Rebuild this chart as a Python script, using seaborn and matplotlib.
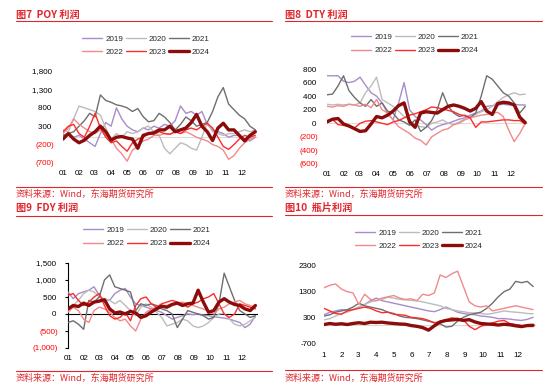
import numpy as np
import pandas as pd
import matplotlib
matplotlib.use("Agg")
import matplotlib.pyplot as plt
import seaborn as sns
from matplotlib.lines import Line2D

sns.set_theme(style="white")
plt.rcParams["font.family"] = ["Liberation Sans", "Noto Sans CJK SC", "DejaVu Sans"]

# ---------------- data ----------------
days = list(range(0, 361, 10))
years = ["2019", "2020", "2021", "2022", "2023", "2024"]
month_starts = [0, 31, 59, 90, 120, 151, 181, 212, 243, 273, 304, 334]
month_labels_a = ["01", "02", "03", "04", "05", "06", "07", "08", "09", "10", "11", "12"]
month_labels_b = ["1", "2", "3", "4", "5", "6", "7", "8", "9", "10", "11", "12"]

poy_2019 = [50, 100, 0, 50, -50, -150, -250, 100, 400, 300, 800, 500, 300, 200, 150, 250, 200, 300, 250, 350, 300, 450, 850, 650, 700, 600, 700, 350, 200, 150, 100, 0, 50, 50, -50, -100, 0]
poy_2020 = [200, 150, 500, 850, 800, 750, 700, 600, 250, -50, 100, 0, 150, 100, 150, 250, 300, 150, 50, -300, -450, -300, -150, -200, -300, -350, 0, 400, 150, 100, 50, 100, 100, 150, 200, 150, 200]
poy_2021 = [50, 100, 150, 300, 450, 650, 550, 1150, 1000, 950, 880, 850, 800, 700, 780, 560, 420, 450, 650, 550, 400, 200, 350, 550, 450, 300, 350, 400, 700, 1100, 1350, 900, 750, 600, 500, 300, 200]
poy_2022 = [100, 250, 500, 350, 250, 150, 100, 200, 50, -50, -300, -450, -650, -350, -250, -100, -50, 50, 50, 100, 80, 150, 100, 150, 80, 0, -50, -100, -200, -250, -350, -600, -500, -300, -150, -50, 0]
poy_2023 = [150, 300, 350, 100, 0, 300, 650, 250, 0, -150, -100, -250, -380, -150, -50, 0, 100, 80, 150, 100, 80, 150, 100, 200, 250, 200, 300, 380, 250, 0, -250, -330, -200, -50, 50, 0, 50]
poy_2024 = [-50, 100, -50, -150, -80, 50, 150, 300, 150, -80, 0, 20, -20, -50, -300, 50, 100, 120, 200, 200, 300, 150, 200, 250, 400, 620, 300, 150, -90, 250, 380, 200, 200, 50, -100, 50, 150]

dty_2019 = [700, 700, 700, 620, 600, 620, 680, 560, 450, 400, 300, 150, 50, 300, 600, 200, 100, 50, -20, -100, -50, -20, 0, 30, 60, 80, 120, 150, 180, 250, 260, 270, 280, 270, 280, 270, 270]
dty_2020 = [280, 270, 280, 270, 280, 270, 300, 450, 550, 680, 350, 300, 250, 180, 100, 50, -20, -50, -60, 0, 20, 50, 0, -20, 20, 60, 100, 130, 170, 200, 250, 320, 380, 420, 450, 420, 430]
dty_2021 = [420, 430, 550, 700, 480, 380, 300, 250, 350, 250, 300, 180, 150, 50, 20, -30, 50, -120, -60, 40, 200, 450, 250, 150, 100, 120, 80, 150, 400, 700, 650, 550, 450, 400, 300, 150, 250]
dty_2022 = [250, 240, 260, 250, 280, 270, 250, 280, 230, 350, 200, 150, 50, -50, -100, -150, -220, -250, -320, -200, -150, -100, -80, -20, 0, 50, 80, 100, 120, 130, 150, 160, 100, -100, -270, -150, 0]
dty_2023 = [40, 60, -20, -30, -50, -70, 0, 30, 40, 20, 0, -20, 20, 40, 80, 120, 140, 170, 200, 240, 230, 210, 190, 170, 130, 110, 80, -60, 20, 20, 30, 40, 50, 50, 40, 40, -10]
dty_2024 = [20, 60, 70, -10, -40, -80, -120, -110, -10, 100, 80, 120, 180, 260, 300, 20, -60, 150, 170, 160, 150, 200, 250, 270, 250, 220, 180, 220, 320, 180, 130, 290, 310, 300, 270, 90, 10]

fdy_2019 = [650, 450, 600, 650, 700, 800, 550, 400, 400, 600, 700, 750, 500, 300, 250, 200, 150, 100, 50, -50, -150, -100, -50, 0, -20, 0, -30, -50, -80, -100, -120, -150, -200, -250, -400, -300, -50]
fdy_2020 = [100, 250, 400, 600, 700, 650, 500, 450, 400, 300, 400, 250, 100, -50, 200, 300, 200, 50, -100, -350, -300, -250, -150, -200, -350, -400, -350, -250, -100, 0, 20, -150, -300, -350, -300, -200, -100]
fdy_2021 = [-250, -200, -300, -450, 400, 350, 500, 1000, 1150, 800, 750, 700, 650, 100, 300, 250, 300, 250, 150, 100, 0, -400, -150, 100, 50, 0, -50, -150, -100, 300, 1200, 800, 400, 100, 0, -100, -50]
fdy_2022 = [50, 200, 100, -150, -250, 100, 200, 150, 50, -100, -200, -150, -350, -500, -150, 50, 150, 200, 250, 250, 300, 320, 350, 300, 250, 200, 150, 80, 0, 150, 200, 300, 350, 400, 300, 250, 200]
fdy_2023 = [550, 600, 400, 250, 350, 500, 600, 250, -50, -150, -100, 50, -200, 250, 450, 500, 300, 200, 300, 350, 400, 350, 300, 200, 300, 350, 450, 500, 600, 300, 0, -100, 0, 300, 250, 200, 150]
fdy_2024 = [150, 250, 220, 320, 250, 350, 380, 420, 150, 30, 60, 0, 80, 30, -100, -50, 60, 150, 230, 200, 280, 320, 250, 300, 320, 700, 350, 50, 100, 350, 450, 350, 280, 250, 150, 100, 250]

bottle_2019 = [400, 500, 550, 600, 580, 600, 700, 800, 950, 1050, 950, 900, 850, 800, 750, 700, 650, 600, 550, 520, 600, 700, 600, 500, 450, 420, 400, 350, 330, 300, 250, 250, 230, 200, 180, 220, 300]
bottle_2020 = [200, 250, 350, 450, 500, 600, 700, 800, 900, 950, 1000, 1080, 1050, 1000, 980, 960, 940, 900, 850, 800, 750, 650, 600, 550, 520, 480, 470, 450, 420, 450, 500, 550, 520, 500, 480, 450, 440]
bottle_2021 = [350, 400, 500, 550, 600, 700, 850, 750, 700, 650, 600, 500, 450, 350, 300, 280, 250, 200, 150, 100, 50, -80, -50, 150, 300, 400, 450, 500, 650, 850, 1100, 1300, 1400, 1700, 1650, 1700, 1500]
bottle_2022 = [1450, 1550, 1600, 1400, 1300, 1250, 800, 1200, 1000, 950, 1050, 1100, 1150, 1050, 1000, 1020, 950, 1200, 1150, 1250, 1950, 1850, 2000, 2100, 1500, 900, 750, 700, 750, 550, 600, 650, 700, 750, 700, 650, 600]
bottle_2023 = [650, 550, 450, 420, 550, 600, 650, 700, 650, 550, 480, 500, 420, 400, 380, 300, 280, 250, 180, 80, 150, 200, 280, 250, 200, -50, -180, -50, 20, 80, 150, 180, 60, 20, -20, -50, -60]
bottle_2024 = [20, 60, 30, 50, 20, 60, 90, 60, 110, 100, 110, 80, 60, 40, 30, -20, -50, -100, -200, -30, 120, 180, 200, 220, 180, 210, 120, 60, 40, 30, 0, 30, 10, -30, -60, -20, -10]

panels = {
    "poy": [poy_2019, poy_2020, poy_2021, poy_2022, poy_2023, poy_2024],
    "dty": [dty_2019, dty_2020, dty_2021, dty_2022, dty_2023, dty_2024],
    "fdy": [fdy_2019, fdy_2020, fdy_2021, fdy_2022, fdy_2023, fdy_2024],
    "bottle": [bottle_2019, bottle_2020, bottle_2021, bottle_2022, bottle_2023, bottle_2024],
}

titles = {"poy": "图7  POY 利润", "dty": "图8  DTY 利润", "fdy": "图9  FDY 利润", "bottle": "图10  瓶片利润"}
source = "资料来源：Wind，东海期货研究所"

# ---------------- style ----------------
colors = ["#a98cc9", "#bcbcbc", "#6f6f6f", "#f2898b", "#ff2b2b", "#8c0c0c"]
widths = [1.0, 1.0, 1.0, 1.0, 1.0, 2.4]
RED = "#e0262c"
NEG = "#ff0000"

W, H = 550, 387
fig = plt.figure(figsize=(W / 100, H / 100), dpi=100)
fig.patch.set_facecolor("white")


def add_ax(l, t, r, b):
    return fig.add_axes([l / W, 1 - b / H, (r - l) / W, (b - t) / H])


def fx(x):
    return x / W


def fy(y):
    return 1 - y / H


def fmt(v, paren=True):
    if not paren:
        return f"{v}"
    if v < 0:
        return f"({abs(v):,})"
    return f"{v:,} "


cfg = {
    "poy": dict(box=(63, 71, 258, 163), ylim=(-700, 1800), yticks=[1800, 1300, 800, 300, -200, -700],
                xl=month_labels_a, xpad=4.7, ypad=6.5, paren=True, zero="#dddddd",
                title=(16, 15), top=(16, 272, 20.5), bot=(16, 272, 186.7), src=(16, 194), leg=(146, 45.5)),
    "dty": dict(box=(327, 69, 528, 164), ylim=(-600, 800), yticks=[800, 600, 400, 200, 0, -200, -400, -600],
                xl=month_labels_a, xpad=4.7, ypad=6.2, paren=True, zero="#dddddd",
                title=(285, 15), top=(285, 542, 21.3), bot=(285, 542, 186.7), src=(285, 194), leg=(415, 44)),
    "fdy": dict(box=(68, 263, 258, 348), ylim=(-1000, 1500), yticks=[1500, 1000, 500, 0, -500, -1000],
                xl=month_labels_a, xpad=5.4, ypad=4.5, paren=True, zero="#000000",
                title=(16, 208.3), top=(16, 272, 215.7), bot=(16, 272, 370.5), src=(16, 378.3), leg=(147, 237)),
    "bottle": dict(box=(324, 266, 536, 343), ylim=(-700, 2300), yticks=[2300, 1300, 300, -700],
                   xl=month_labels_b, xpad=6.8, ypad=5.8, paren=False, zero="#d9d9d9",
                   title=(285, 208.3), top=(285, 542, 215), bot=(285, 542, 370), src=(285, 378.3), leg=(419, 239.5)),
}

# legend is filled column by column, so reorder to get rows 2019-2021 / 2022-2024
leg_order = [0, 3, 1, 4, 2, 5]

for key, c in cfg.items():
    ax = add_ax(*c["box"])
    ax.set_facecolor("none")
    ax.axhline(0, color=c["zero"], lw=0.8, zorder=1)
    for yr, vals, col, lw in zip(years, panels[key], colors, widths):
        sns.lineplot(x=days, y=vals, ax=ax, color=col, linewidth=lw, legend=False, zorder=3)
    ax.set_xlim(0, 365)
    ax.set_ylim(*c["ylim"])
    ax.set_xlabel("")
    ax.set_ylabel("")
    ax.set_xticks(month_starts)
    ax.set_xticklabels(c["xl"])
    ax.set_yticks(c["yticks"])
    ax.set_yticklabels([fmt(v, c["paren"]) for v in c["yticks"]])
    for lab, v in zip(ax.get_yticklabels(), c["yticks"]):
        lab.set_color(NEG if (v < 0 and c["paren"]) else "#000000")
    for s in ax.spines.values():
        s.set_visible(False)
    ax.tick_params(axis="x", length=0, pad=c["xpad"], labelsize=5.8, colors="#000000")
    ax.tick_params(axis="y", length=0, pad=c["ypad"], labelsize=5.8)
    if key == "fdy":
        ax.spines["left"].set_visible(True)
        ax.spines["left"].set_color("#000000")
        ax.spines["left"].set_linewidth(0.8)
        ax.tick_params(axis="y", length=2.5, width=0.8, direction="out", color="#000000", left=True)

    handles = [Line2D([0], [0], color=colors[i], lw=widths[i]) for i in leg_order]
    labels = [years[i] for i in leg_order]
    ax.legend(handles, labels, ncol=3, loc="center", bbox_to_anchor=(fx(c["leg"][0]), fy(c["leg"][1])),
              bbox_transform=fig.transFigure, frameon=False, fontsize=5.8, handlelength=2.5,
              handletextpad=0.35, columnspacing=0.3, labelspacing=0.7, borderpad=0)

    tx, ty = c["title"]
    fig.text(fx(tx), fy(ty), titles[key], color=RED, fontsize=7.3, weight="bold", ha="left", va="center",
             family=["Noto Sans CJK SC", "DejaVu Sans"])
    x0, x1, yy = c["top"]
    fig.add_artist(Line2D([fx(x0), fx(x1)], [fy(yy), fy(yy)], color=RED, lw=0.8, transform=fig.transFigure))
    x0, x1, yy = c["bot"]
    fig.add_artist(Line2D([fx(x0), fx(x1)], [fy(yy), fy(yy)], color=RED, lw=0.8, transform=fig.transFigure))
    sx, sy = c["src"]
    fig.text(fx(sx), fy(sy), source, color=RED, fontsize=6.5, ha="left", va="center",
             family=["Noto Sans CJK SC", "DejaVu Sans"])

fig.savefig("out.png", dpi=100, facecolor="white")
